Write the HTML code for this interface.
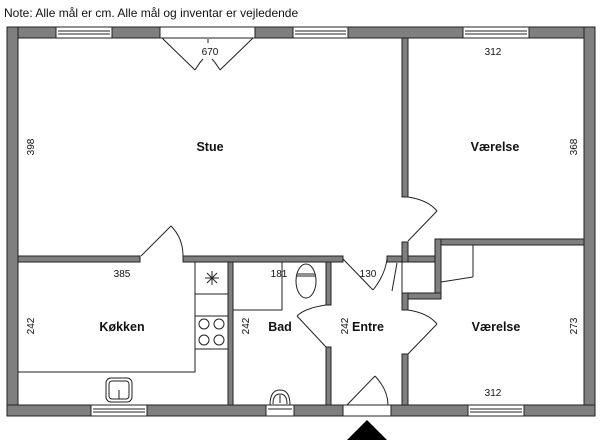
<!DOCTYPE html>
<html><head><meta charset="utf-8"><style>
html,body{margin:0;padding:0;background:#fff;}
svg{display:block;}
text{font-family:"Liberation Sans",sans-serif;fill:#111;}
</style></head><body>
<svg width="600" height="445" viewBox="0 0 600 445" xmlns="http://www.w3.org/2000/svg">
<text x="4" y="17" font-size="12">Note: Alle mål er cm. Alle mål og inventar er vejledende</text>
<g fill="#7f7f7f" stroke="#222" stroke-width="1">
<!-- outer walls -->
<rect x="7" y="27" width="588" height="11"/>
<rect x="7" y="27" width="11" height="389"/>
<rect x="584" y="27" width="11" height="389"/>
<rect x="7" y="405" width="588" height="11"/>
<!-- interior -->
<rect x="402" y="38" width="6" height="159"/>
<rect x="18" y="256" width="122" height="6"/>
<rect x="183" y="256" width="160" height="6"/>
<rect x="387" y="256" width="48" height="6"/>
<rect x="402" y="242" width="6" height="20"/>
<rect x="435" y="239" width="149" height="6"/>
<rect x="435" y="239" width="6" height="60"/>
<rect x="402" y="293" width="39" height="6"/>
<rect x="402" y="293" width="6" height="17"/>
<rect x="402" y="354" width="6" height="51"/>
<rect x="228" y="262" width="5" height="143"/>
<rect x="326" y="262" width="5" height="43"/>
<rect x="326" y="347" width="5" height="58"/>
</g>
<g fill="#fff" stroke="#222" stroke-width="1">
<!-- windows top -->
<rect x="56" y="27" width="56" height="11"/><line x1="58" y1="31" x2="110" y2="31"/><line x1="58" y1="34" x2="110" y2="34"/>
<rect x="160" y="27" width="95" height="11"/>
<rect x="293" y="27" width="55" height="11"/><line x1="295" y1="31" x2="346" y2="31"/><line x1="295" y1="34" x2="346" y2="34"/>
<rect x="463" y="27" width="66" height="11"/><line x1="465" y1="31" x2="527" y2="31"/><line x1="465" y1="34" x2="527" y2="34"/>
<!-- windows bottom -->
<rect x="91" y="405" width="56" height="11"/><line x1="93" y1="409" x2="145" y2="409"/><line x1="93" y1="412" x2="145" y2="412"/>
<rect x="266" y="405" width="28" height="11"/><line x1="268" y1="409" x2="292" y2="409"/>
<rect x="468" y="405" width="56" height="11"/><line x1="470" y1="409" x2="522" y2="409"/><line x1="470" y1="412" x2="522" y2="412"/>
<rect x="343" y="405" width="48" height="11"/>
</g>
<g fill="none" stroke="#222" stroke-width="1">
<!-- top double door -->
<line x1="162" y1="38" x2="195" y2="70"/><path d="M195 70 Q200 62 203 59"/>
<line x1="253" y1="38" x2="220" y2="70"/><path d="M220 70 Q215 62 212 59"/>
<line x1="208" y1="39" x2="208" y2="43"/>
<!-- stue-kitchen door -->
<line x1="141" y1="256" x2="171" y2="226"/><path d="M171 226 Q183 238 183 256"/>
<!-- stue-værelse door -->
<path d="M408 197 Q428 200 437 211"/><line x1="437" y1="211" x2="408" y2="241"/>
<!-- entre-stue door 130 -->
<line x1="343" y1="259" x2="373" y2="290"/><path d="M373 290 Q385 275 387 259"/>
<line x1="397" y1="263" x2="392" y2="291"/>
<!-- bad door -->
<path d="M326 305 Q305 308 297 316"/><line x1="297" y1="316" x2="326" y2="347"/>
<!-- værelse 2 door -->
<path d="M408 310 Q428 313 437 324"/><line x1="437" y1="324" x2="408" y2="354"/>
<!-- front door -->
<line x1="347" y1="405" x2="375" y2="376"/><path d="M375 376 Q388 390 388 405"/>
<!-- closet lines -->
<line x1="402" y1="262" x2="402" y2="293"/>
<line x1="473" y1="245" x2="473" y2="277"/><line x1="441" y1="282" x2="473" y2="277"/>
<!-- kitchen counter -->
<polyline points="18,372 195,372 195,262"/>
<line x1="195" y1="294" x2="228" y2="294"/><line x1="195" y1="316" x2="228" y2="316"/><line x1="195" y1="349" x2="228" y2="349"/>
<circle cx="204" cy="324" r="5"/><circle cx="219" cy="324" r="5"/><circle cx="204" cy="340" r="5"/><circle cx="219" cy="340" r="5"/>
<line x1="205" y1="278" x2="219" y2="278"/><line x1="212" y1="271" x2="212" y2="285"/><line x1="207" y1="273" x2="217" y2="283"/><line x1="217" y1="273" x2="207" y2="283"/>
<rect x="106" y="378" width="26" height="24" rx="5"/><rect x="109" y="381" width="20" height="18" rx="3"/>
<line x1="119" y1="390" x2="119" y2="399"/>
<!-- bad -->
<polyline points="233,310 282,310 282,262"/>
<ellipse cx="306" cy="281" rx="10" ry="17"/><line x1="297" y1="274" x2="315" y2="274"/><line x1="297" y1="276" x2="315" y2="276"/>
<path d="M270 405 Q270 390 280 390 Q290 390 290 405"/><path d="M273 404 Q273 394 280 394 Q287 394 287 404"/>
<line x1="280" y1="395" x2="280" y2="403"/>
</g>
<polygon points="347,440 367,420 387,440" fill="#000"/>
<g font-size="10" text-anchor="middle">
<text x="210" y="55">670</text>
<text x="493" y="55">312</text>
<text x="122" y="277">385</text>
<text x="279" y="277">181</text>
<text x="368" y="277">130</text>
<text x="493" y="396">312</text>
<text transform="translate(34,147) rotate(-90)">398</text>
<text transform="translate(577,147) rotate(-90)">368</text>
<text transform="translate(34,326) rotate(-90)">242</text>
<text transform="translate(249,326) rotate(-90)">242</text>
<text transform="translate(348,326) rotate(-90)">242</text>
<text transform="translate(577,326) rotate(-90)">273</text>
</g>
<g font-size="12.5" font-weight="bold" text-anchor="middle">
<text x="210" y="151">Stue</text>
<text x="495" y="151">Værelse</text>
<text x="122" y="331">Køkken</text>
<text x="280" y="331">Bad</text>
<text x="368" y="331">Entre</text>
<text x="496" y="331">Værelse</text>
</g>
</svg>
</body></html>
